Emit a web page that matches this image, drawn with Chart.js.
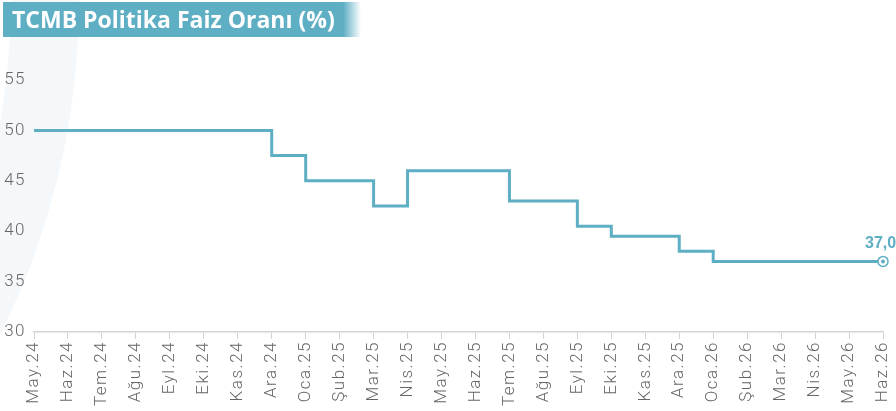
<!DOCTYPE html>
<html>
<head>
<meta charset="utf-8">
<script src="https://cdn.jsdelivr.net/npm/chart.js"></script>
<style>
  html, body { margin: 0; padding: 0; background: #fff; }
  #wrap { position: relative; width: 896px; height: 411px; overflow: hidden; }
  #bgshape {
    position: absolute; left: -1421px; top: -750px; width: 1500px; height: 1500px;
    border-radius: 50%; background: #f4f8fb;
  }
  #bghole {
    position: absolute; left: -1353px; top: -682px; width: 1364px; height: 1364px;
    border-radius: 50%; background: #fff;
  }
  #title {
    position: absolute; left: 3px; top: 2px; width: 358px; height: 35px;
    background: linear-gradient(to right, #5eaec4 0%, #5eaec4 95%, rgba(94,174,196,0) 100%);
    color: #fff; font: bold 23px "Open Sans", "DejaVu Sans", sans-serif;
    line-height: 35px; padding-left: 9px; box-sizing: border-box; white-space: nowrap;
  }
  canvas { position: absolute; left: 0; top: 0; }
</style>
</head>
<body>
<div id="wrap">
  <div id="bgshape"></div>
  <div id="bghole"></div>
  <canvas id="chart" width="896" height="411"></canvas>
  <div id="title">TCMB Politika Faiz Oranı (%)</div>
</div>
<script>
  const months = [
    "May.24", "Haz.24", "Tem.24", "Ağu.24", "Eyl.24", "Eki.24", "Kas.24", "Ara.24",
    "Oca.25", "Şub.25", "Mar.25", "Nis.25", "May.25", "Haz.25", "Tem.25", "Ağu.25",
    "Eyl.25", "Eki.25", "Kas.25", "Ara.25", "Oca.26", "Şub.26", "Mar.26", "Nis.26",
    "May.26", "Haz.26",
  ];
  const policyRate = [
    50, 50, 50, 50, 50, 50, 50, 47.5,
    45, 45, 42.5, 46, 46, 46, 43, 43,
    40.5, 39.5, 39.5, 38, 37, 37, 37, 37,
    37, 37,
  ];
  const yTicks = [30, 35, 40, 45, 50, 55];

  const LINE = "#5eaec4";
  const lastIdx = policyRate.length - 1;
  const FONT = "Roboto, 'Liberation Sans', Arial, sans-serif";

  // slightly spaced axis text, like the original
  const spacing = {
    id: "spacing",
    beforeLayout(chart) { chart.ctx.letterSpacing = "1.5px"; },
    beforeDraw(chart) { chart.ctx.letterSpacing = "1.5px"; },
  };

  // last value label + dot inside the end marker
  const endLabel = {
    id: "endLabel",
    afterDatasetsDraw(chart) {
      const pt = chart.getDatasetMeta(0).data[lastIdx];
      const ctx = chart.ctx;
      ctx.save();
      ctx.letterSpacing = "0px";
      ctx.fillStyle = LINE;
      ctx.beginPath();
      ctx.arc(pt.x, pt.y, 2, 0, Math.PI * 2);
      ctx.fill();
      ctx.font = "bold 16px 'Liberation Sans', Arial, sans-serif";
      ctx.textAlign = "left";
      ctx.textBaseline = "alphabetic";
      ctx.fillText(policyRate[lastIdx].toFixed(1).replace(".", ","), pt.x - 18, pt.y - 13);
      ctx.restore();
    },
  };

  new Chart(document.getElementById("chart"), {
    type: "line",
    data: {
      labels: months,
      datasets: [
        {
          data: policyRate,
          stepped: true,
          borderColor: LINE,
          borderWidth: 3,
          fill: false,
          pointRadius: policyRate.map((v, i) => (i === lastIdx ? 5 : 0)),
          pointBackgroundColor: "#fff",
          pointBorderColor: LINE,
          pointBorderWidth: 1.5,
        },
      ],
    },
    options: {
      responsive: false,
      animation: false,
      layout: { padding: { left: 0, right: 13, top: 80, bottom: 0 } },
      plugins: { legend: { display: false }, tooltip: { enabled: false } },
      scales: {
        x: {
          offset: false,
          afterFit: (scale) => {
            scale.height = 79;
            scale.paddingLeft = 0;
            scale.paddingRight = 0;
          },
          grid: {
            display: true,
            drawOnChartArea: false,
            drawTicks: true,
            tickLength: 7,
            color: "#d4d4d4",
          },
          border: { color: "#d4d4d4", width: 1.5 },
          ticks: {
            autoSkip: false,
            maxRotation: 90,
            minRotation: 90,
            padding: 2,
            color: "#666",
            font: { family: FONT, size: 17, weight: 300 },
          },
        },
        y: {
          min: 30,
          max: 55,
          afterFit: (scale) => { scale.width = 34; },
          afterBuildTicks: (scale) => {
            scale.ticks = yTicks.map((v) => ({ value: v }));
          },
          grid: { display: false, drawTicks: false },
          border: { display: false },
          ticks: {
            padding: 8,
            color: "#666",
            font: { family: FONT, size: 17, weight: 300 },
          },
        },
      },
    },
    plugins: [spacing, endLabel],
  });
</script>
</body>
</html>
